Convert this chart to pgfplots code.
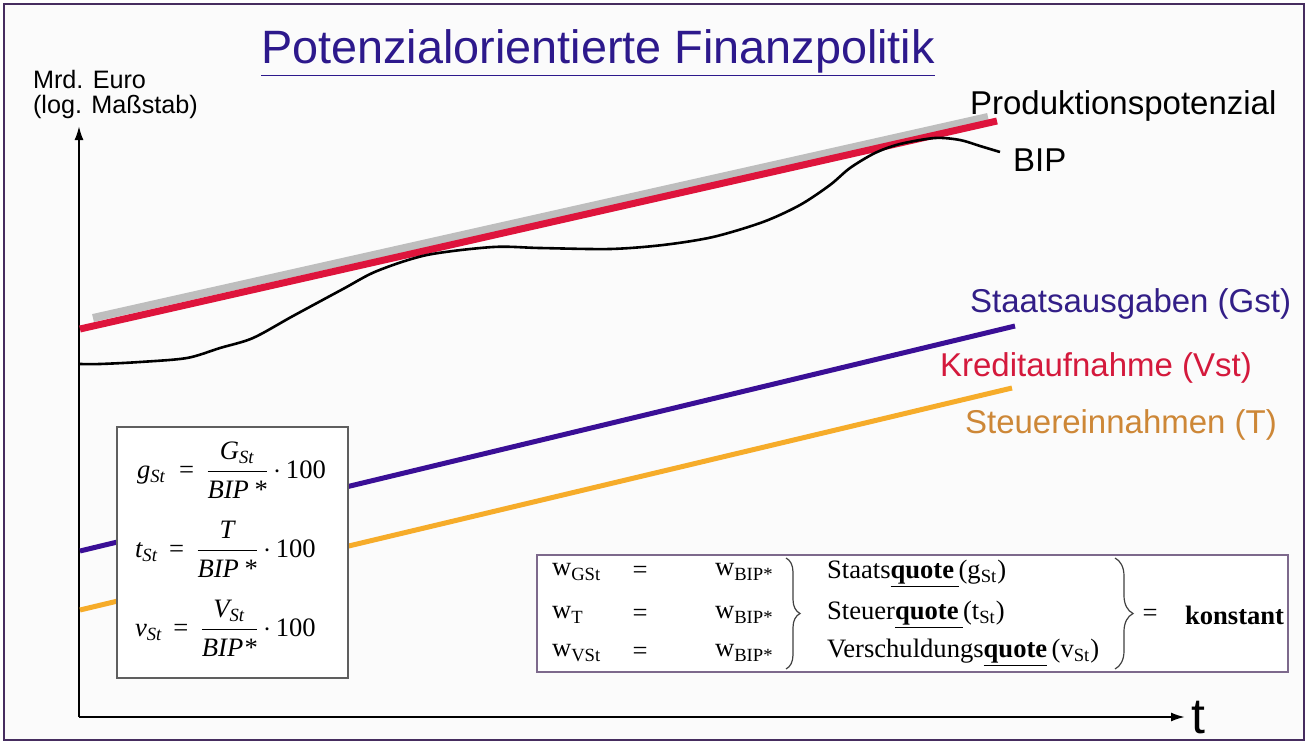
\documentclass[border=0pt]{standalone}
\usepackage{pgfplots}
\usepackage{pgfplotstable}
\pgfplotsset{compat=1.18}
\usetikzlibrary{arrows.meta,decorations.pathreplacing}
\usepackage{fontspec}
\setmainfont{Liberation Sans}
\newfontfamily\tms{Liberation Serif}
\definecolor{framec}{RGB}{70,45,95}
\definecolor{titlec}{RGB}{45,25,140}
\definecolor{potgray}{RGB}{190,190,190}
\definecolor{bipred}{RGB}{222,20,60}
\definecolor{gstc}{RGB}{58,15,150}
\definecolor{tc}{RGB}{246,172,42}
\definecolor{gsttext}{RGB}{50,30,135}
\definecolor{vsttext}{RGB}{212,25,60}
\definecolor{ttext}{RGB}{205,135,55}
\definecolor{box1c}{RGB}{95,95,95}
\definecolor{box2c}{RGB}{125,105,140}
\definecolor{bg}{RGB}{251,251,251}

% pixel coordinates of the reference (y downwards)
\pgfplotstableread{
x y
93 318
988 117
}\potdata
\pgfplotstableread{
x y
80 329
997 121
}\reddata
\pgfplotstableread{
x y
80 364
100 364
140 362
187 358
220 348
253 338
293 316
343 289
377 271
427 255
493 247
540 248
610 249
663 245
713 237
763 222
800 205
830 185
850 168
875 153
900 144
935 138
960 140
980 146
1000 152
}\bipdata
\pgfplotstableread{
x y
80 551
1015 326
}\gstdata
\pgfplotstableread{
x y
80 610
1012 388
}\tdata
\pgfplotstableread{
x y
79 717
1185 717
}\xaxisdata
\pgfplotstableread{
x y
79 717
79 126
}\yaxisdata

\newcommand{\fr}[2]{$\displaystyle\frac{\mbox{#1}}{\mbox{#2}}$}
\newcommand{\tf}{\tms\fontsize{13.3}{16}\selectfont}

\begin{document}
\begin{tikzpicture}
\begin{axis}[
  scale only axis, width=654pt, height=372pt,
  xmin=0, xmax=1308, ymin=0, ymax=744, y dir=reverse,
  enlargelimits=false, hide axis, clip=false,
]
\path (axis cs:0,0) rectangle (axis cs:1308,744);
\fill[bg] (axis cs:4,4) rectangle (axis cs:1304,740);
\draw[framec, line width=1.2pt] (axis cs:4,4) rectangle (axis cs:1304,740);

% title
\node[anchor=base, text=titlec, font=\fontsize{23.4}{28}\selectfont] at (axis cs:598,63)
  {\underline{Potenzialorientierte Finanzpolitik}};

% axis label
\node[anchor=base west, font=\fontsize{12.6}{15}\selectfont] at (axis cs:26,88) {Mrd. Euro};
\node[anchor=base west, font=\fontsize{12.6}{15}\selectfont] at (axis cs:26,113) {(log. Maßstab)};

% axes
\addplot[black, line width=1pt, -{Latex[length=7pt,width=4.5pt]}] table[x=x,y=y] {\xaxisdata};
\addplot[black, line width=1pt, -{Latex[length=7pt,width=4.5pt]}] table[x=x,y=y] {\yaxisdata};
\node[anchor=base, font=\fontsize{25}{30}\selectfont] at (axis cs:1198,733) {t};

% series
\addplot[potgray, line width=4pt] table[x=x,y=y] {\potdata};
\addplot[bipred, line width=3.5pt] table[x=x,y=y] {\reddata};
\addplot[black, line width=1.3pt, smooth, tension=0.5] table[x=x,y=y] {\bipdata};
\addplot[gstc, line width=2.5pt] table[x=x,y=y] {\gstdata};
\addplot[tc, line width=2.5pt] table[x=x,y=y] {\tdata};

% labels
\node[anchor=west, font=\fontsize{16.5}{20}\selectfont] at (axis cs:963,106) {Produktionspotenzial};
\node[anchor=west, font=\fontsize{16.5}{20}\selectfont] at (axis cs:1006,160) {BIP};
\node[anchor=west, text=gsttext, font=\fontsize{16.5}{20}\selectfont] at (axis cs:963,304) {Staatsausgaben (Gst)};
\node[anchor=west, text=vsttext, font=\fontsize{16.5}{20}\selectfont] at (axis cs:933,368) {Kreditaufnahme (Vst)};
\node[anchor=west, text=ttext, font=\fontsize{16.5}{20}\selectfont] at (axis cs:958,425) {Steuereinnahmen (T)};

% formula box 1
\filldraw[fill=white, draw=box1c, line width=1pt] (axis cs:117,427) rectangle (axis cs:348,678);
\node[anchor=west, font=\tf] at (axis cs:130,470)
  {{\itshape g}\textsubscript{\itshape St}\enspace = \,\fr{\itshape G\textsubscript{St}}{\itshape BIP\,*}\,$\cdot$\,100};
\node[anchor=west, font=\tf] at (axis cs:128,549)
  {{\itshape t}\textsubscript{\itshape St}\, = \,\fr{\itshape \ T\ }{\itshape BIP\,*}\,$\cdot$\,100};
\node[anchor=west, font=\tf] at (axis cs:128,628)
  {{\itshape v}\textsubscript{\itshape St}\, = \,\fr{\itshape V\textsubscript{St}}{\itshape BIP*}\,$\cdot$\,100};

% formula box 2
\filldraw[fill=white, draw=box2c, line width=1pt] (axis cs:537,555) rectangle (axis cs:1288,672);
\node[anchor=west, font=\tf] at (axis cs:545,572) {w\textsubscript{GSt}};
\node[anchor=west, font=\tf] at (axis cs:545,615) {w\textsubscript{T}};
\node[anchor=west, font=\tf] at (axis cs:545,653) {w\textsubscript{VSt}};
\node[font=\tf] at (axis cs:640,572) {=};
\node[font=\tf] at (axis cs:640,615) {=};
\node[font=\tf] at (axis cs:640,653) {=};
\node[anchor=west, font=\tf] at (axis cs:708,572) {w\textsubscript{BIP*}};
\node[anchor=west, font=\tf] at (axis cs:708,615) {w\textsubscript{BIP*}};
\node[anchor=west, font=\tf] at (axis cs:708,653) {w\textsubscript{BIP*}};
\draw[black!75, line width=0.6pt, decorate, decoration={brace, amplitude=7pt}] (axis cs:786,558) -- (axis cs:786,669);
\node[anchor=west, font=\tf] at (axis cs:820,574) {Staats\underline{\textbf{quote}\,}(g\textsubscript{St})};
\node[anchor=west, font=\tf] at (axis cs:820,615) {Steuer\underline{\textbf{quote}\,}(t\textsubscript{St})};
\node[anchor=west, font=\tf] at (axis cs:820,653) {Verschuldungs\underline{\textbf{quote}}\,(v\textsubscript{St})};
\draw[black!75, line width=0.6pt, decorate, decoration={brace, amplitude=9pt}] (axis cs:1115,558) -- (axis cs:1115,669);
\node[font=\tf] at (axis cs:1150,615) {=};
\node[anchor=west, font=\tf\bfseries] at (axis cs:1178,615) {konstant};
\end{axis}
\end{tikzpicture}
\end{document}
